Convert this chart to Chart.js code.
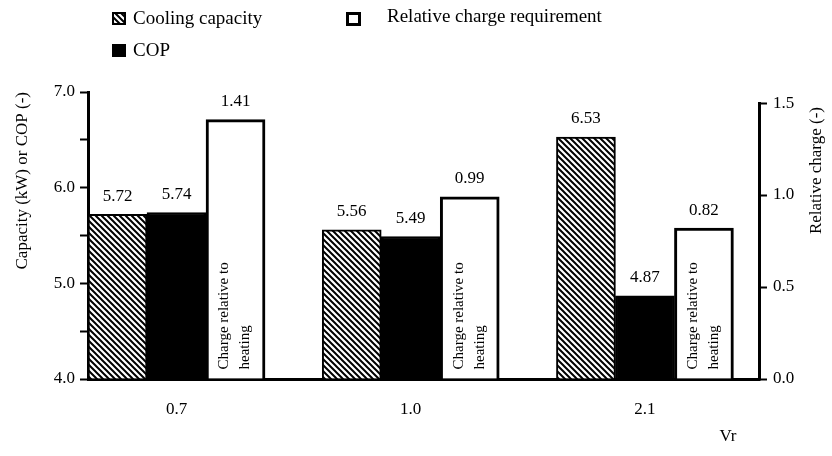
<!DOCTYPE html>
<html><head><meta charset="utf-8">
<script src="https://cdn.jsdelivr.net/npm/chart.js@4.4.1/dist/chart.umd.min.js"></script>
<style>html,body{margin:0;padding:0;background:#fff;}#wrap{width:832px;height:456px;}</style>
</head><body><div id="wrap"><canvas id="c" width="832" height="456"></canvas></div>
<script>
const categories = ['0.7', '1.0', '2.1'];
const coolingCapacity = [5.72, 5.56, 6.53];
const cop = [5.74, 5.49, 4.87];
const relativeCharge = [1.41, 0.99, 0.82];
const leftTicks = [4.0, 4.5, 5.0, 5.5, 6.0, 6.5, 7.0];
const rightTicks = [0.0, 0.5, 1.0, 1.5];
const seriesNames = ['Cooling capacity', 'COP', 'Relative charge requirement'];
const barNote = ['Charge relative to', 'heating'];
const xTitle = 'Vr';
const leftTitle = 'Capacity (kW) or COP (-)';
const rightTitle = 'Relative charge (-)';

const FONT = "'Liberation Serif','Times New Roman',serif";
const ctx0 = document.getElementById('c').getContext('2d');

function makeHatch() {
  const s = 6;
  const c = document.createElement('canvas'); c.width = s; c.height = s;
  const g = c.getContext('2d');
  g.fillStyle = '#fff'; g.fillRect(0, 0, s, s);
  g.strokeStyle = '#000'; g.lineWidth = 2;
  g.beginPath();
  g.moveTo(-1, -1); g.lineTo(s + 1, s + 1);
  g.moveTo(-1, s - 1); g.lineTo(1, s + 1);
  g.moveTo(s - 1, -1); g.lineTo(s + 1, 1);
  g.stroke();
  return ctx0.createPattern(c, 'repeat');
}
const hatch = makeHatch();
const xy = arr => arr.map((v, i) => ({ x: i, y: v }));

const decor = {
  id: 'decor',
  afterDatasetsDraw(chart) {
    const ctx = chart.ctx;
    ctx.save();
    ctx.fillStyle = '#000';
    ctx.textBaseline = 'middle';
    // value labels
    ctx.font = '17px ' + FONT;
    ctx.textAlign = 'center';
    chart.data.datasets.forEach((ds, di) => {
      chart.getDatasetMeta(di).data.forEach((bar, i) => {
        ctx.fillText(ds.data[i].y.toFixed(2), bar.x, bar.y - 18);
      });
    });
    // notes in white bars
    ctx.font = '15px ' + FONT;
    ctx.textAlign = 'left';
    chart.getDatasetMeta(2).data.forEach(bar => {
      ctx.save();
      ctx.translate(bar.x, bar.base - 9);
      ctx.rotate(-Math.PI / 2);
      ctx.fillText(barNote[0], 0, -11);
      ctx.fillText(barNote[1], 0, 10);
      ctx.restore();
    });
    // right axis line up to last tick
    const y1 = chart.scales.y1;
    ctx.strokeStyle = '#000'; ctx.lineWidth = 3;
    ctx.beginPath();
    ctx.moveTo(y1.left + 0.5, y1.getPixelForValue(rightTicks[0]) + 1.5);
    ctx.lineTo(y1.left + 0.5, y1.getPixelForValue(rightTicks[rightTicks.length - 1]) - 1);
    ctx.stroke();
    // right title (reads bottom to top)
    ctx.font = '17px ' + FONT;
    ctx.save();
    ctx.translate(817, 107);
    ctx.rotate(-Math.PI / 2);
    ctx.textAlign = 'right';
    ctx.fillText(rightTitle, 0, 0);
    ctx.restore();
    // x title
    ctx.textAlign = 'center';
    ctx.fillText(xTitle, chart.chartArea.right - 31, 437);
    // legend
    const items = [
      { x: 112, y: 12, w: 14, h: 13, fill: hatch, bw: 2, tx: 133, ty: 19 },
      { x: 112, y: 44, w: 14, h: 13, fill: '#000', bw: 2, tx: 133, ty: 51 },
      { x: 346, y: 12, w: 15, h: 14, fill: '#fff', bw: 3, tx: 387, ty: 17 }
    ];
    ctx.font = '19px ' + FONT;
    ctx.textAlign = 'left';
    items.forEach((it, i) => {
      ctx.fillStyle = it.fill;
      ctx.fillRect(it.x, it.y, it.w, it.h);
      ctx.strokeStyle = '#000'; ctx.lineWidth = it.bw;
      ctx.strokeRect(it.x + it.bw / 2, it.y + it.bw / 2, it.w - it.bw, it.h - it.bw);
      ctx.fillStyle = '#000';
      ctx.fillText(seriesNames[i], it.tx, it.ty);
    });
    ctx.restore();
  }
};

const tickFont = { family: FONT, size: 17 };
new Chart(ctx0, {
  type: 'bar',
  data: {
    datasets: [
      { label: seriesNames[0], data: xy(coolingCapacity), backgroundColor: hatch, borderColor: '#000', borderWidth: 2, yAxisID: 'y', base: leftTicks[0] },
      { label: seriesNames[1], data: xy(cop), backgroundColor: '#000', borderColor: '#000', borderWidth: 2, yAxisID: 'y', base: leftTicks[0] },
      { label: seriesNames[2], data: xy(relativeCharge), backgroundColor: '#fff', borderColor: '#000', borderWidth: 3, yAxisID: 'y1', base: rightTicks[0] }
    ]
  },
  options: {
    responsive: false,
    animation: false,
    devicePixelRatio: 1,
    layout: { padding: { top: 92, left: 0, right: 0, bottom: 0 } },
    datasets: { bar: { barThickness: 59, borderSkipped: 'start' } },
    plugins: { legend: { display: false }, tooltip: { enabled: false } },
    scales: {
      x: {
        type: 'linear', min: -0.378, max: 2.487, offset: false,
        afterBuildTicks: s => { s.ticks = categories.map((_, i) => ({ value: i })); },
        ticks: { callback: v => categories[v] ?? '', font: tickFont, color: '#000', padding: 20, autoSkip: false, maxRotation: 0 },
        grid: { display: false, drawTicks: false },
        border: { display: true, color: '#000', width: 3 },
        afterFit: s => { s.height = 77; }
      },
      y: {
        position: 'left', min: leftTicks[0], max: leftTicks[leftTicks.length - 1],
        afterBuildTicks: s => { s.ticks = leftTicks.map(v => ({ value: v })); },
        ticks: { callback: v => Number.isInteger(v) ? v.toFixed(1) : '', font: tickFont, color: '#000', padding: 5, autoSkip: false },
        grid: { drawOnChartArea: false, drawTicks: true, tickLength: 8, tickWidth: 2, tickColor: '#000' },
        border: { display: true, color: '#000', width: 3 },
        title: { display: true, text: leftTitle, align: 'end', font: tickFont, color: '#000', padding: { top: 12, bottom: 0 } },
        afterFit: s => { s.width = 88; }
      },
      y1: {
        position: 'right', min: 0, max: 1.56,
        afterBuildTicks: s => { s.ticks = rightTicks.map(v => ({ value: v })); },
        ticks: { callback: v => v.toFixed(1), font: tickFont, color: '#000', padding: 6, autoSkip: false },
        grid: { drawOnChartArea: false, drawTicks: true, tickLength: 8, tickWidth: 2, tickColor: '#000' },
        border: { display: false },
        afterFit: s => { s.width = 73; }
      }
    }
  },
  plugins: [decor]
});
</script>
</body></html>
